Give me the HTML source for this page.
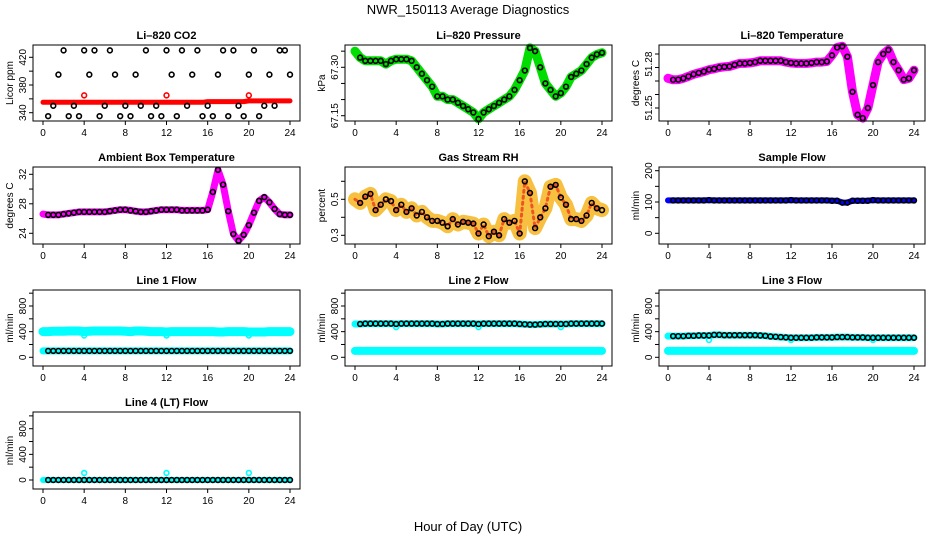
<!DOCTYPE html>
<html><head><meta charset="utf-8">
<style>
body{margin:0;background:#fff;}
svg{display:block;font-family:"Liberation Sans",sans-serif;}
</style></head>
<body>
<svg id="chart" width="936" height="540" viewBox="0 0 936 540">
<text x="468" y="14" text-anchor="middle" font-size="13">NWR_150113  Average Diagnostics</text>
<text x="468" y="531" text-anchor="middle" font-size="13">Hour of Day (UTC)</text>
</svg>
<script>
const hours = [0,0.5,1,1.5,2,2.5,3,3.5,4,4.5,5,5.5,6,6.5,7,7.5,8,8.5,9,9.5,10,10.5,11,11.5,12,12.5,13,13.5,14,14.5,15,15.5,16,16.5,17,17.5,18,18.5,19,19.5,20,20.5,21,21.5,22,22.5,23,23.5,24];
const xTicks = [0,4,8,12,16,20,24];
const co2Red = [355,355,355,355,355,355,355,355,355,355,355,355,355,355,355,355,355,355,355,355,355,355,355,355,355,355,355,355,355,355,355,355,356,356,356,356,356,356,356,356,357,357,357,357,357,357,357,357,357];
const co2Outlier = [365,365,365];
const co2OutlierHours = [4,12,20];
const co2Black = [null,335,350,395,430,335,350,335,430,395,430,335,350,430,395,335,350,335,395,350,430,335,350,335,430,395,335,430,350,395,430,335,350,335,395,430,335,430,350,335,395,430,335,350,395,350,430,430,395];
const pressure = [67.35,67.33,67.32,67.32,67.32,67.32,67.31,67.32,67.325,67.325,67.325,67.32,67.30,67.28,67.26,67.24,67.21,67.21,67.20,67.20,67.19,67.18,67.17,67.16,67.14,67.16,67.17,67.18,67.19,67.20,67.21,67.23,67.26,67.29,67.36,67.35,67.30,67.25,67.23,67.21,67.22,67.24,67.27,67.28,67.29,67.31,67.33,67.34,67.345];
const liTemp = [51.272,51.2709,51.271,51.272,51.2734,51.275,51.276,51.277,51.2784,51.279,51.28,51.2805,51.2808,51.282,51.283,51.283,51.2834,51.284,51.285,51.285,51.285,51.285,51.285,51.284,51.2834,51.283,51.283,51.283,51.2834,51.284,51.284,51.2845,51.289,51.2948,51.2957,51.288,51.262,51.245,51.2425,51.25,51.267,51.284,51.29,51.293,51.284,51.278,51.271,51.272,51.278];
const ambient = [26.6,26.5,26.5,26.5,26.6,26.7,26.8,26.9,26.9,26.9,26.9,26.9,26.9,27.0,27.1,27.2,27.2,27.1,27.0,26.9,26.9,27.0,27.1,27.2,27.2,27.2,27.2,27.1,27.1,27.1,27.1,27.1,27.2,29.6,32.6,30.6,27.0,23.9,23.0,23.8,25.1,26.8,28.4,28.9,28.2,27.3,26.6,26.5,26.5];
const rh = [0.50,0.48,0.515,0.53,0.44,0.47,0.50,0.49,0.44,0.47,0.43,0.45,0.41,0.43,0.40,0.38,0.38,0.37,0.35,0.39,0.36,0.375,0.37,0.365,0.31,0.36,0.295,0.32,0.30,0.39,0.37,0.38,0.31,0.60,0.535,0.34,0.40,0.45,0.57,0.58,0.51,0.47,0.39,0.39,0.38,0.41,0.48,0.45,0.44];
const sampleFlow = [105,105,105,105,105,105,105,105,106,105,105,105,105,105,105,105,105,105,105,105,105,105,105,105,106,105,105,105,105,105,105,105,104,104,98,98,104,104,104,104,106,105,105,105,105,105,105,105,105];
const line1Hi = [400,400,405,405,405,410,410,410,400,405,410,410,410,410,410,410,405,400,410,410,405,400,400,400,395,400,400,400,400,400,400,400,400,400,395,395,400,400,400,400,395,395,395,395,400,400,400,400,400];
const line1Lo = [100,100,100,100,100,100,100,100,100,100,100,100,100,100,100,100,100,100,100,100,100,100,100,100,100,100,100,100,100,100,100,100,100,100,100,100,100,100,100,100,100,100,100,100,100,100,100,100,100];
const line2Hi = [520,520,525,525,525,525,525,525,520,525,525,525,525,525,525,525,520,520,525,525,525,525,525,525,520,525,525,525,525,525,525,525,520,515,510,510,515,520,520,520,520,520,525,525,525,525,525,525,525];
const line2Lo = [100,100,100,100,100,100,100,100,100,100,100,100,100,100,100,100,100,100,100,100,100,100,100,100,100,100,100,100,100,100,100,100,100,100,100,100,100,100,100,100,100,100,100,100,100,100,100,100,100];
const line3Hi = [330,330,330,330,335,335,340,340,340,350,350,345,345,345,345,345,345,345,340,335,325,320,315,310,305,305,305,305,305,310,310,310,310,315,315,315,310,310,310,305,305,305,305,305,305,305,305,305,305];
const line4 = [0,0,0,0,0,0,0,0,0,0,0,0,0,0,0,0,0,0,0,0,0,0,0,0,0,0,0,0,0,0,0,0,0,0,0,0,0,0,0,0,0,0,0,0,0,0,0,0,0];
const dipHours = [4,12,20];
const line1Dip = [340,340,340];
const line2Dip = [470,470,470];
const line3Dip = [270,270,270];
const line4Spike = [110,110,110];

const NS='http://www.w3.org/2000/svg';
const svg=document.getElementById('chart');
function mk(tag,attrs,parent){const e=document.createElementNS(NS,tag);for(const k in attrs)e.setAttribute(k,attrs[k]);(parent||svg).appendChild(e);return e;}

const cols=[{l:33,r:300,x0:43,x1:290},{l:345,r:612,x0:355,x1:602},{l:659,r:925,x0:668,x1:914}];
const rows=[{t:45,b:121},{t:167,b:244},{t:290,b:366},{t:412,b:489}];

function panel(name,title,ci,ri,ylab,yv0,yp0,yv1,yp1,ticks,labels){
  const c=cols[ci],r=rows[ri];
  const g=mk('g',{});
  
  
  const xs=h=>c.x0+(c.x1-c.x0)*h/24;
  const ys=v=>yp0+(v-yv0)*(yp1-yp0)/(yv1-yv0);
  const t=mk('text',{x:(c.l+c.r)/2,y:r.t-6,'text-anchor':'middle','font-size':'11','font-weight':'bold'},g);
  t.textContent=title;
  
  
  const plot=mk('g',{},g);
  
  
  const fr=mk('rect',{x:c.l,y:r.t,width:c.r-c.l,height:r.b-r.t,fill:'none',stroke:'#000','stroke-width':1},g);
  
  
  const xa=mk('g',{},g);
  
  
  mk('line',{x1:xs(0),x2:xs(24),y1:r.b,y2:r.b,stroke:'#000'},xa);
  xTicks.forEach(h=>{mk('line',{x1:xs(h),x2:xs(h),y1:r.b,y2:r.b+4,stroke:'#000'},xa);
    const tl=mk('text',{x:xs(h),y:r.b+15,'text-anchor':'middle','font-size':'10'},xa);tl.textContent=h;
    
    });
  const ya=mk('g',{},g);
  
  
  mk('line',{x1:c.l,x2:c.l,y1:ys(ticks[0]),y2:ys(ticks[ticks.length-1]),stroke:'#000'},ya);
  ticks.forEach(v=>mk('line',{x1:c.l-4,x2:c.l,y1:ys(v),y2:ys(v),stroke:'#000'},ya));
  labels.forEach(([v,s])=>{const yy=ys(v);const tl=mk('text',{x:c.l-7,y:yy,'text-anchor':'middle','font-size':'10',transform:`rotate(-90 ${c.l-7} ${yy})`},ya);tl.textContent=s;
    
    });
  const yl=mk('text',{x:c.l-20,y:(r.t+r.b)/2,'text-anchor':'middle','font-size':'10',transform:`rotate(-90 ${c.l-20} ${(r.t+r.b)/2})`},g);
  yl.textContent=ylab;
  
  
  return {xs,ys,plot};
}
function band(p,hs,vals,color,w,name,dash){
  const pts=[];hs.forEach((h,i)=>{if(vals[i]!=null)pts.push(p.xs(h).toFixed(1)+','+p.ys(vals[i]).toFixed(1));});
  const a={points:pts.join(' '),fill:'none',stroke:color,'stroke-width':w,'stroke-linejoin':'round','stroke-linecap':'round'};
  if(dash)a['stroke-dasharray']=dash;
  const l=mk('polyline',a,p.plot);
  
  
}
function pts(p,hs,vals,color,name,start){
  const g=mk('g',{},p.plot);
  
  
  hs.forEach((h,i)=>{if(vals[i]==null||h<(start||0))return;
    const c=mk('circle',{cx:p.xs(h),cy:p.ys(vals[i]),r:2.4,fill:'none',stroke:color,'stroke-width':1.6},g);
    
    });
}
// CO2
let p=panel('co2','Li\u2013820 CO2',0,0,'Licor ppm',340,112.7,420,57.3,[340,360,380,400,420],[[340,'340'],[380,'380'],[420,'420']]);
band(p,hours,co2Red,'#ff0000',5,'co2-red-series');
pts(p,co2OutlierHours,co2Outlier,'#ff0000','co2-red-outliers');
pts(p,hours,co2Black,'#000','co2-black-series');
// Pressure
p=panel('pressure','Li\u2013820 Pressure',1,0,'kPa',67.15,115.7,67.30,67.3,[67.15,67.20,67.25,67.30,67.35],[[67.15,'67.15'],[67.30,'67.30']]);
band(p,hours,pressure,'#00dd00',9,'pressure-green-series');
pts(p,hours,pressure,'#000','pressure-black-series',0.5);
// Li temp
p=panel('li-temp','Li\u2013820 Temperature',2,0,'degrees C',51.25,108,51.29,54,[51.25,51.26,51.27,51.28,51.29],[[51.25,'51.25'],[51.2825,'51.28']]);
band(p,hours,liTemp,'#ff00ff',9,'li-temp-magenta-series');
pts(p,hours,liTemp,'#000','li-temp-black-series',0.5);
// Ambient
p=panel('ambient','Ambient Box Temperature',0,1,'degrees C',24,233.3,32,174.3,[24,26,28,30,32],[[24,'24'],[28,'28'],[32,'32']]);
band(p,hours,ambient,'#ff00ff',7,'ambient-magenta-series');
pts(p,hours,ambient,'#000','ambient-black-series',0.5);
// RH
p=panel('rh','Gas Stream RH',1,1,'percent',0.3,235.3,0.5,199.3,[0.3,0.4,0.5,0.6],[[0.3,'0.3'],[0.5,'0.5']]);
band(p,hours,rh,'#f7c040',14,'rh-orange-series');
band(p,hours,rh,'#ee5522',3,'rh-red-texture','2 4');
pts(p,hours,rh,'#000','rh-black-series',0.5);
// Sample flow
p=panel('sample-flow','Sample Flow',2,1,'ml/min',0,233.3,200,170.7,[0,50,100,150,200],[[0,'0'],[100,'100'],[200,'200']]);
band(p,hours,sampleFlow,'#0000ff',6,'sample-flow-blue-series');
pts(p,hours,sampleFlow,'#000','sample-flow-black-series',0.5);
const flowTicks=[0,200,400,600,800,1000];const flowLabels=[[0,'0'],[400,'400'],[800,'800']];
// Line 1
p=panel('line1','Line 1 Flow',0,2,'ml/min',0,357.3,800,306,flowTicks,flowLabels);
band(p,hours,line1Hi,'#00ffff',9,'line1-cyan-high');
pts(p,dipHours,line1Dip,'#00ffff','line1-cyan-dips');
band(p,hours,line1Lo,'#00ffff',7,'line1-cyan-low');
pts(p,hours,line1Lo,'#000','line1-black-series',0.5);
// Line 2
p=panel('line2','Line 2 Flow',1,2,'ml/min',0,357.3,800,306,flowTicks,flowLabels);
band(p,hours,line2Hi,'#00ffff',7,'line2-cyan-high');
pts(p,dipHours,line2Dip,'#00ffff','line2-cyan-dips');
band(p,hours,line2Lo,'#00ffff',8,'line2-cyan-low');
pts(p,hours,line2Hi,'#000','line2-black-series',0.5);
// Line 3
p=panel('line3','Line 3 Flow',2,2,'ml/min',0,357.3,800,306,flowTicks,flowLabels);
band(p,hours,line3Hi,'#00ffff',7,'line3-cyan-high');
pts(p,dipHours,line3Dip,'#00ffff','line3-cyan-dips');
band(p,hours,line2Lo,'#00ffff',8,'line3-cyan-low');
pts(p,hours,line3Hi,'#000','line3-black-series',0.5);
// Line 4
p=panel('line4','Line 4 (LT) Flow',0,3,'ml/min',0,480,800,428.7,flowTicks,flowLabels);
band(p,hours,line4,'#00ffff',6,'line4-cyan-series');
pts(p,dipHours,line4Spike,'#00ffff','line4-cyan-spikes');
pts(p,hours,line4,'#000','line4-black-series',0.5);
</script>
</body></html>
